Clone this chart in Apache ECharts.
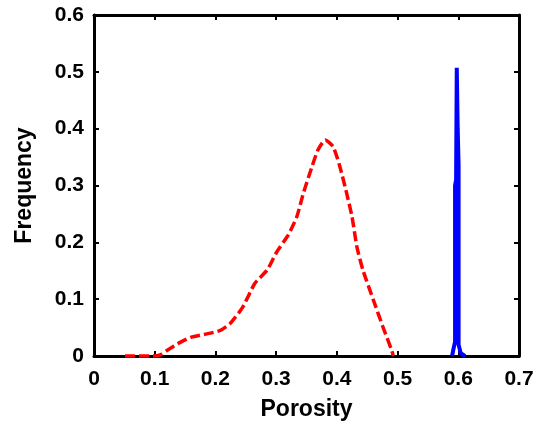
<!DOCTYPE html>
<html>
<head>
<meta charset="utf-8">
<script src="https://cdn.jsdelivr.net/npm/echarts@6/dist/echarts.min.js"></script>
<style>
html,body{margin:0;padding:0;background:#fff;}
#chart{width:540px;height:431px;}
</style>
</head>
<body>
<div id="chart"></div>
<script>
// Red dashed curve (porosity distribution 1)
const redX = [0.051, 0.097, 0.109, 0.122, 0.142, 0.160, 0.186, 0.208, 0.224, 0.245, 0.265, 0.285, 0.301, 0.320, 0.334, 0.345, 0.359, 0.369, 0.381, 0.394, 0.405, 0.416, 0.425, 0.433, 0.443, 0.460, 0.476, 0.490, 0.493];
const redY = [0, 0, 0.002, 0.011, 0.024, 0.033, 0.039, 0.045, 0.057, 0.086, 0.128, 0.151, 0.183, 0.213, 0.245, 0.287, 0.333, 0.363, 0.380, 0.368, 0.333, 0.287, 0.245, 0.192, 0.151, 0.099, 0.051, 0.011, 0];
// Blue solid spike (porosity distribution 2)
const blueX = [0.5898, 0.5920, 0.5947, 0.5947, 0.5964, 0.5975, 0.5990, 0.6005, 0.6005, 0.6040, 0.6070, 0.6110];
const blueY = [0, 0.012, 0.025, 0.300, 0.310, 0.507, 0.400, 0.336, 0.020, 0.005, 0.003, 0];
// Axis ticks
const xTicks = [0, 0.1, 0.2, 0.3, 0.4, 0.5, 0.6, 0.7];
const yTicks = [0, 0.1, 0.2, 0.3, 0.4, 0.5, 0.6];

const font = '"Liberation Sans", Arial, Helvetica, sans-serif';
const zip = (a, b) => a.map((v, i) => [v, b[i]]);

const chart = echarts.init(document.getElementById('chart'), null, {renderer: 'canvas'});
const lineAxis = {show: true, onZero: false, lineStyle: {color: '#000', width: 3}};
const tick = {show: true, inside: true, length: 5, lineStyle: {color: '#000', width: 2}};
const fmt = v => (Math.round(v * 10) / 10).toString();

chart.setOption({
  animation: false,
  backgroundColor: '#fff',
  grid: {left: 94, top: 15, width: 425, height: 341, containLabel: false},
  xAxis: [
    {
      type: 'value', min: xTicks[0], max: xTicks[xTicks.length - 1], interval: 0.1,
      position: 'bottom',
      name: 'Porosity', nameLocation: 'middle', nameGap: 42,
      nameTextStyle: {fontFamily: font, fontWeight: 'bold', fontSize: 23, color: '#000'},
      axisLine: lineAxis, axisTick: tick,
      axisLabel: {fontFamily: font, fontWeight: 'bold', fontSize: 21, color: '#000', margin: 13, formatter: fmt},
      splitLine: {show: false}
    },
    {
      type: 'value', min: xTicks[0], max: xTicks[xTicks.length - 1], interval: 0.1,
      position: 'top',
      axisLine: lineAxis, axisTick: tick, axisLabel: {show: false}, splitLine: {show: false}
    }
  ],
  yAxis: [
    {
      type: 'value', min: yTicks[0], max: yTicks[yTicks.length - 1], interval: 0.1,
      position: 'left',
      name: 'Frequency', nameLocation: 'middle', nameGap: 58,
      nameTextStyle: {fontFamily: font, fontWeight: 'bold', fontSize: 23, color: '#000'},
      axisLine: lineAxis, axisTick: tick,
      axisLabel: {fontFamily: font, fontWeight: 'bold', fontSize: 21, color: '#000', margin: 10, formatter: fmt},
      splitLine: {show: false}
    },
    {
      type: 'value', min: yTicks[0], max: yTicks[yTicks.length - 1], interval: 0.1,
      position: 'right',
      axisLine: lineAxis, axisTick: tick, axisLabel: {show: false}, splitLine: {show: false}
    }
  ],
  series: [
    {
      type: 'line', data: zip(redX, redY), showSymbol: false, symbol: 'none',
      smooth: 0.2, clip: false,
      lineStyle: {color: '#ff0000', width: 3.5, type: [10, 4]}
    },
    {
      type: 'line', data: zip(blueX, blueY), showSymbol: false, symbol: 'none',
      smooth: false, clip: false,
      lineStyle: {color: '#0000ff', width: 4}
    }
  ]
});
</script>
</body>
</html>
